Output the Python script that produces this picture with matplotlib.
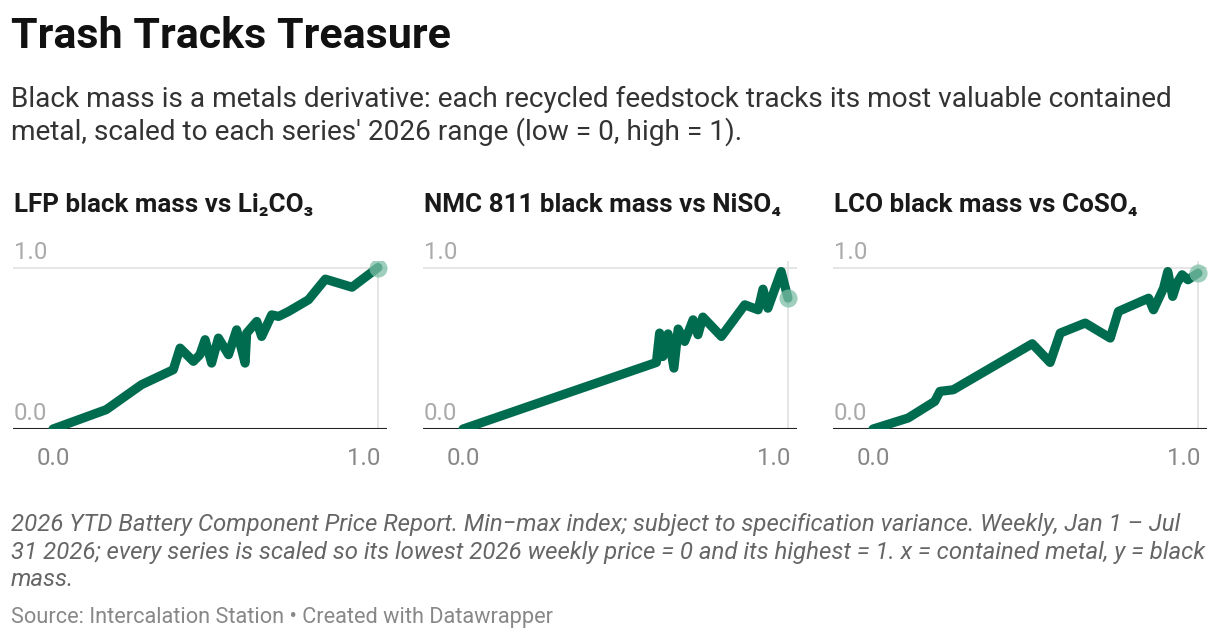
import matplotlib
matplotlib.use("Agg")
import matplotlib.pyplot as plt
from matplotlib import transforms

# ---------------- data ----------------
panel_titles = ["LFP black mass vs Li₂CO₃", "NMC 811 black mass vs NiSO₄", "LCO black mass vs CoSO₄"]

lfp_x = [0.0, 0.164, 0.272, 0.370, 0.391, 0.432, 0.452, 0.468, 0.488, 0.509, 0.540, 0.565, 0.591,
         0.596, 0.627, 0.642, 0.673, 0.694, 0.725, 0.786, 0.838, 0.920, 1.0]
lfp_y = [0.0, 0.120, 0.274, 0.367, 0.501, 0.419, 0.460, 0.553, 0.408, 0.563, 0.460, 0.614, 0.408,
         0.594, 0.666, 0.573, 0.707, 0.697, 0.728, 0.800, 0.928, 0.878, 1.0]

nmc_x = [0.0, 0.595, 0.605, 0.615, 0.631, 0.649, 0.662, 0.682, 0.708, 0.723, 0.738, 0.795, 0.867,
         0.908, 0.923, 0.938, 0.979, 1.0]
nmc_y = [0.0, 0.412, 0.594, 0.449, 0.589, 0.377, 0.619, 0.542, 0.676, 0.584, 0.693, 0.573, 0.769,
         0.738, 0.866, 0.748, 0.975, 0.810]

lco_x = [0.0, 0.108, 0.190, 0.206, 0.247, 0.490, 0.545, 0.576, 0.653, 0.730, 0.755, 0.848, 0.863,
         0.894, 0.907, 0.922, 0.935, 0.951, 0.969, 1.0]
lco_y = [0.0, 0.068, 0.171, 0.233, 0.243, 0.528, 0.412, 0.594, 0.656, 0.563, 0.728, 0.810, 0.738,
         0.872, 0.975, 0.821, 0.903, 0.955, 0.924, 0.965]

series_x = [lfp_x, nmc_x, lco_x]
series_y = [lfp_y, nmc_y, lco_y]

x_ticks = [0.0, 1.0]
y_ticks = [0.0, 1.0]
tick_labels = ["0.0", "1.0"]

title = "Trash Tracks Treasure"
subtitle = ["Black mass is a metals derivative: each recycled feedstock tracks its most valuable contained",
            "metal, scaled to each series' 2026 range (low = 0, high = 1)."]
note = ["2026 YTD Battery Component Price Report. Min\u2212max index; subject to specification variance. Weekly, Jan 1 \u2013 Jul",
        "31 2026; every series is scaled so its lowest 2026 weekly price = 0 and its highest = 1. x = contained metal, y = black",
        "mass."]
source = "Source: Intercalation Station \u2022 Created with Datawrapper"

# ---------------- style ----------------
W, H = 1220, 640
FONT = ["Roboto", "DejaVu Sans"]
plt.rcParams["font.family"] = FONT
LINE = "#006c4f"
DOT = "#7dbfa6"
PX = 0.72  # px -> pt at dpi 100

fig = plt.figure(figsize=(W / 100, H / 100), dpi=100)
fig.patch.set_facecolor("white")

def fy(px):
    return 1 - px / H

def fx(px):
    return px / W

fig.text(fx(11), fy(37), title, fontsize=43 * PX, fontweight="bold", color="#111111", va="center", ha="left")
for i, line in enumerate(subtitle):
    fig.text(fx(11), fy(99 + 33 * i), line, fontsize=28 * PX, color="#333333", va="center", ha="left")
for i, line in enumerate(note):
    fig.text(fx(11), fy(525 + 27.5 * i), line, fontsize=24 * PX, color="#666666", style="italic",
             va="center", ha="left")
fig.text(fx(11), fy(617), source, fontsize=21.8 * PX, color="#888888", va="center", ha="left")

# axes geometry (pixels)
lefts = [13, 423, 833]
ax_w = 374
x0_px = 40     # data x=0 offset from axes left
unit_x = 325   # px per unit x
y0_px = 429    # baseline
unit_y = 161.5
ytop = 1.04

xmin = -x0_px / unit_x
xmax = (ax_w - x0_px) / unit_x

for k in range(3):
    ax = fig.add_axes([fx(lefts[k]), fy(y0_px), fx(ax_w), unit_y * ytop / H])
    ax.set_xlim(xmin, xmax)
    ax.set_ylim(0, ytop)
    for s in ax.spines.values():
        s.set_visible(False)
    ax.set_facecolor("none")
    ax.axhline(0, color="#222222", lw=1.5, zorder=3)
    ax.axhline(y_ticks[-1], color="#e3e3e3", lw=1.3, zorder=1)
    ax.axvline(x_ticks[-1], color="#e3e3e3", lw=1.3, zorder=1)
    ax.plot(series_x[k], series_y[k], color=LINE, lw=6.6, solid_joinstyle="round",
            solid_capstyle="round", zorder=4)
    ax.scatter([series_x[k][-1]], [series_y[k][-1]], s=170, color=DOT, alpha=0.75, zorder=5,
               linewidths=0)
    ax.set_yticks([])
    ax.set_xticks(x_ticks)
    ax.set_xticklabels(tick_labels, fontsize=24 * PX, color="#888888")
    ax.tick_params(axis="x", length=0, pad=13)
    # last x label right-aligned at its tick, like the reference
    xl = ax.get_xticklabels()
    xl[-1].set_horizontalalignment("right")
    xl[-1].set_transform(xl[-1].get_transform() + transforms.ScaledTranslation(2 / 100, 0, fig.dpi_scale_trans))
    # y labels above the gridlines at the left edge
    trans = transforms.blended_transform_factory(ax.transAxes, ax.transData)
    off = transforms.offset_copy(trans, fig=fig, x=1, y=15, units="dots")
    for v, lab in zip(y_ticks, tick_labels):
        ax.text(0, v, lab, transform=off, fontsize=24 * PX, color="#aaaaaa", ha="left", va="center")
    fig.text(fx(lefts[k] + 1), fy(205), panel_titles[k], fontsize=26 * PX, fontweight="bold",
             color="#1a1a1a", va="center", ha="left", family=FONT)

fig.savefig("out.png", dpi=100, facecolor="white")
